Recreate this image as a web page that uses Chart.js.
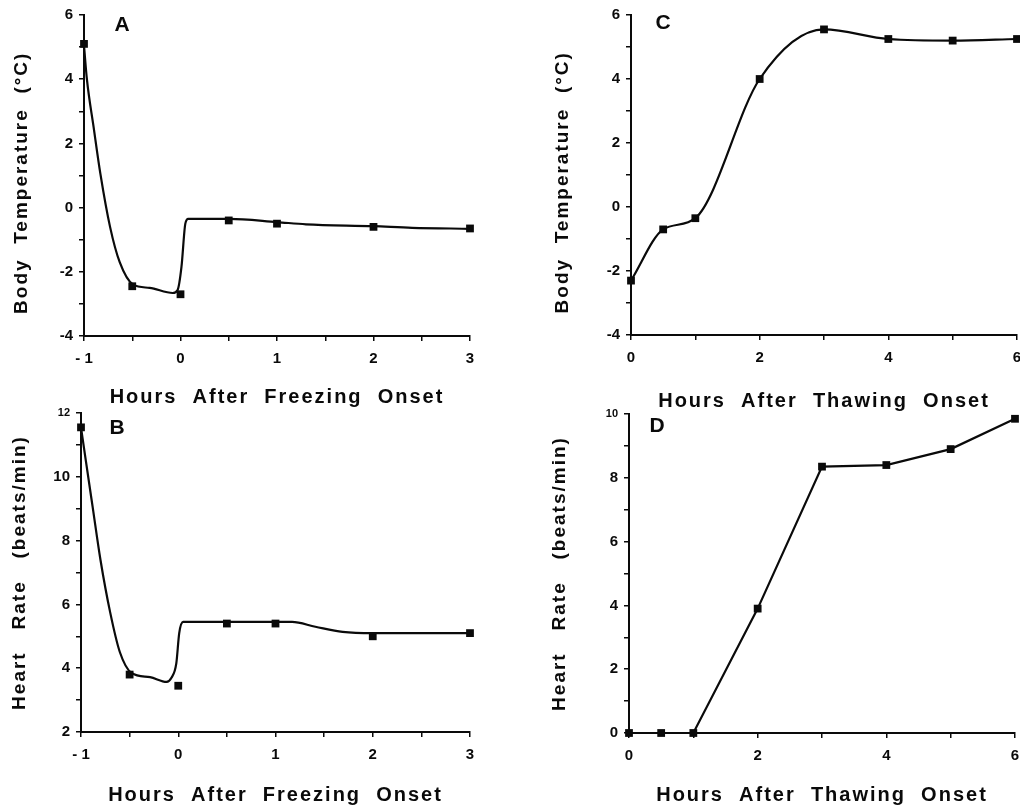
<!DOCTYPE html>
<html>
<head>
<meta charset="utf-8">
<script src="https://cdn.jsdelivr.net/npm/chart.js@4.4.1/dist/chart.umd.min.js"></script>
<style>
    html, body { margin: 0; padding: 0; background: #fff; width: 1020px; height: 805px; overflow: hidden; }
    canvas { position: absolute; }
</style>
</head>
<body>
<canvas id="chartA" width="500" height="410" style="left:0;top:0"></canvas>
<canvas id="chartB" width="500" height="405" style="left:0;top:400px"></canvas>
<canvas id="chartC" width="540" height="412" style="left:500px;top:0"></canvas>
<canvas id="chartD" width="540" height="405" style="left:500px;top:400px"></canvas>
<script>
// Freezing (A, B) — sampled hours and measured values
const freezeHours = [-1, -0.5, 0, 0.5, 1, 2, 3];
const freezeTemp = [5.1, -2.45, -2.7, -0.4, -0.5, -0.6, -0.65];
const freezeHeart = [11.55, 3.8, 3.45, 5.4, 5.4, 5.0, 5.1];

// continuous trace drawn through the freezing data
const freezeTempTraceHours = [-1, -0.97, -0.9, -0.83, -0.73, -0.63, -0.49, -0.32, -0.08, -0.03, 0.01, 0.05, 0.08, 0.5, 1, 1.3, 2, 2.4, 3];
const freezeTempTrace = [5.05, 4.0, 2.5, 1.05, -0.6, -1.7, -2.4, -2.5, -2.66, -2.57, -1.85, -0.5, -0.35, -0.35, -0.45, -0.52, -0.58, -0.63, -0.66];
const freezeHeartTraceHours = [-1, -0.95, -0.88, -0.8, -0.7, -0.6, -0.48, -0.29, -0.12, -0.07, -0.02, 0.01, 0.05, 1.17, 1.41, 1.69, 2, 3];
const freezeHeartTrace = [11.55, 10.5, 9.05, 7.4, 5.75, 4.5, 3.85, 3.72, 3.57, 3.7, 4.15, 5.1, 5.45, 5.45, 5.3, 5.14, 5.1, 5.1];

// Thawing (C, D)
const thawHours = [0, 0.5, 1, 2, 3, 4, 5, 6];
const thawTemp = [-2.3, -0.7, -0.35, 4.0, 5.55, 5.25, 5.2, 5.25];
const thawHeart = [0, 0, 0, 3.9, 8.35, 8.4, 8.9, 9.85];

const INK = '#0a0a0a';
const FONT = "'Liberation Sans', Arial, sans-serif";
Chart.defaults.color = INK;
Chart.defaults.font.family = FONT;

const toXY = (xs, ys) => xs.map((x, i) => ({ x, y: ys[i] }));

// loose tracking for the axis titles only; tick labels are drawn later (z: 1) without it
const tracking = {
    id: 'tracking',
    beforeLayout(chart) { chart.ctx.letterSpacing = '2px'; },
    beforeDraw(chart) { chart.ctx.letterSpacing = '2px'; },
    beforeDatasetsDraw(chart) { chart.ctx.letterSpacing = '0px'; },
};

// panel letter (A, B, C, D)
const panelLetter = {
    id: 'panelLetter',
    afterDraw(chart, args, opts) {
        const { ctx, chartArea } = chart;
        ctx.save();
        ctx.letterSpacing = '0px';
        ctx.font = `bold 21px ${FONT}`;
        ctx.fillStyle = INK;
        ctx.textAlign = 'center';
        ctx.textBaseline = 'middle';
        ctx.fillText(opts.text, chartArea.left + opts.dx, chartArea.top + opts.dy);
        ctx.restore();
    },
};

function makePanel(id, p) {
    const tickFont = (ctx) => (p.smallTop && ctx.tick && ctx.tick.value === p.yMax)
        ? { size: 11, weight: 'bold' } : { size: 15, weight: 'bold' };

    const tickMarks = { display: true, drawOnChartArea: false, drawTicks: true, tickLength: 5, color: INK, lineWidth: 1.5 };

    new Chart(document.getElementById(id), {
        type: 'line',
        data: { datasets: p.datasets },
        plugins: [tracking, panelLetter],
        options: {
            responsive: false,
            animation: false,
            layout: { padding: { top: p.padTop, right: p.padRight, bottom: 0, left: 0 } },
            plugins: {
                legend: { display: false },
                tooltip: { enabled: false },
                panelLetter: p.letter,
            },
            scales: {
                x: {
                    type: 'linear',
                    min: p.xMin, max: p.xMax,
                    afterFit: (s) => { s.height = p.xHeight; },
                    border: { display: true, color: INK, width: 2 },
                    grid: tickMarks,
                    ticks: {
                        z: 1,
                        stepSize: p.xStep,
                        padding: 9,
                        maxRotation: 0,
                        autoSkip: false,
                        font: { size: 15, weight: 'bold' },
                        callback: (v) => p.xLabel(v),
                    },
                    title: {
                        display: true,
                        text: p.xTitle,
                        font: { size: 20, weight: 'bold', lineHeight: 1 },
                        padding: { top: 0, bottom: p.xTitlePad },
                    },
                },
                y: {
                    min: p.yMin, max: p.yMax,
                    afterFit: (s) => { s.width = p.yWidth; },
                    border: { display: true, color: INK, width: 2 },
                    grid: tickMarks,
                    ticks: {
                        z: 1,
                        stepSize: 1,
                        padding: 6,
                        autoSkip: false,
                        font: tickFont,
                        callback: (v) => (v % 2 === 0 ? String(v) : ''),
                    },
                    title: {
                        display: true,
                        text: p.yTitle,
                        font: { size: 19, weight: 'bold', lineHeight: 1.2 },
                        padding: { top: p.yTitlePad, bottom: 0 },
                    },
                },
            },
        },
    });
}

const traceStyle = {
    borderColor: INK, borderWidth: 2.2, pointRadius: 0,
    cubicInterpolationMode: 'monotone', clip: false,
};
const markStyle = {
    showLine: false, pointStyle: 'rect', pointRadius: 5.5,
    pointBackgroundColor: INK, pointBorderWidth: 0, clip: false,
};

const freezeLabel = (v) => (Number.isInteger(v) ? (v < 0 ? '- ' + Math.abs(v) : String(v)) : '');
const thawLabel = (v) => (v % 2 === 0 ? String(v) : '');

makePanel('chartA', {
    datasets: [
        { ...traceStyle, data: toXY(freezeTempTraceHours, freezeTempTrace) },
        { ...markStyle, data: toXY(freezeHours, freezeTemp) },
    ],
    xMin: -1, xMax: 3, xStep: 0.5, xLabel: freezeLabel,
    yMin: -4, yMax: 6,
    yWidth: 84, xHeight: 74, padTop: 15, padRight: 30,
    xTitle: 'Hours  After  Freezing  Onset', xTitlePad: 3,
    yTitle: 'Body  Temperature  (°C)  ', yTitlePad: 10,
    letter: { text: 'A', dx: 38, dy: 10 },
});

makePanel('chartB', {
    datasets: [
        { ...traceStyle, data: toXY(freezeHeartTraceHours, freezeHeartTrace) },
        { ...markStyle, data: toXY(freezeHours, freezeHeart) },
    ],
    xMin: -1, xMax: 3, xStep: 0.5, xLabel: freezeLabel,
    yMin: 2, yMax: 12, smallTop: true,
    yWidth: 81, xHeight: 73, padTop: 13, padRight: 30,
    xTitle: 'Hours  After  Freezing  Onset', xTitlePad: 0,
    yTitle: 'Heart   Rate   (beats/min)', yTitlePad: 8,
    letter: { text: 'B', dx: 36, dy: 15 },
});

makePanel('chartC', {
    datasets: [
        { ...traceStyle, ...markStyle, showLine: true, data: toXY(thawHours, thawTemp) },
    ],
    xMin: 0, xMax: 6, xStep: 1, xLabel: thawLabel,
    yMin: -4, yMax: 6,
    yWidth: 131, xHeight: 77, padTop: 12, padRight: 23,
    xTitle: 'Hours  After  Thawing  Onset', xTitlePad: 1,
    yTitle: 'Body  Temperature  (°C)  ', yTitlePad: 51,
    letter: { text: 'C', dx: 32, dy: 8 },
});

makePanel('chartD', {
    datasets: [
        { ...traceStyle, ...markStyle, showLine: true, cubicInterpolationMode: 'default', tension: 0, data: toXY(thawHours, thawHeart) },
    ],
    xMin: 0, xMax: 6, xStep: 1, xLabel: thawLabel,
    yMin: 0, yMax: 10, smallTop: true,
    yWidth: 129, xHeight: 72, padTop: 14, padRight: 25,
    xTitle: 'Hours  After  Thawing  Onset', xTitlePad: 0,
    yTitle: 'Heart   Rate   (beats/min)', yTitlePad: 48,
    letter: { text: 'D', dx: 28, dy: 12 },
});
</script>
</body>
</html>
